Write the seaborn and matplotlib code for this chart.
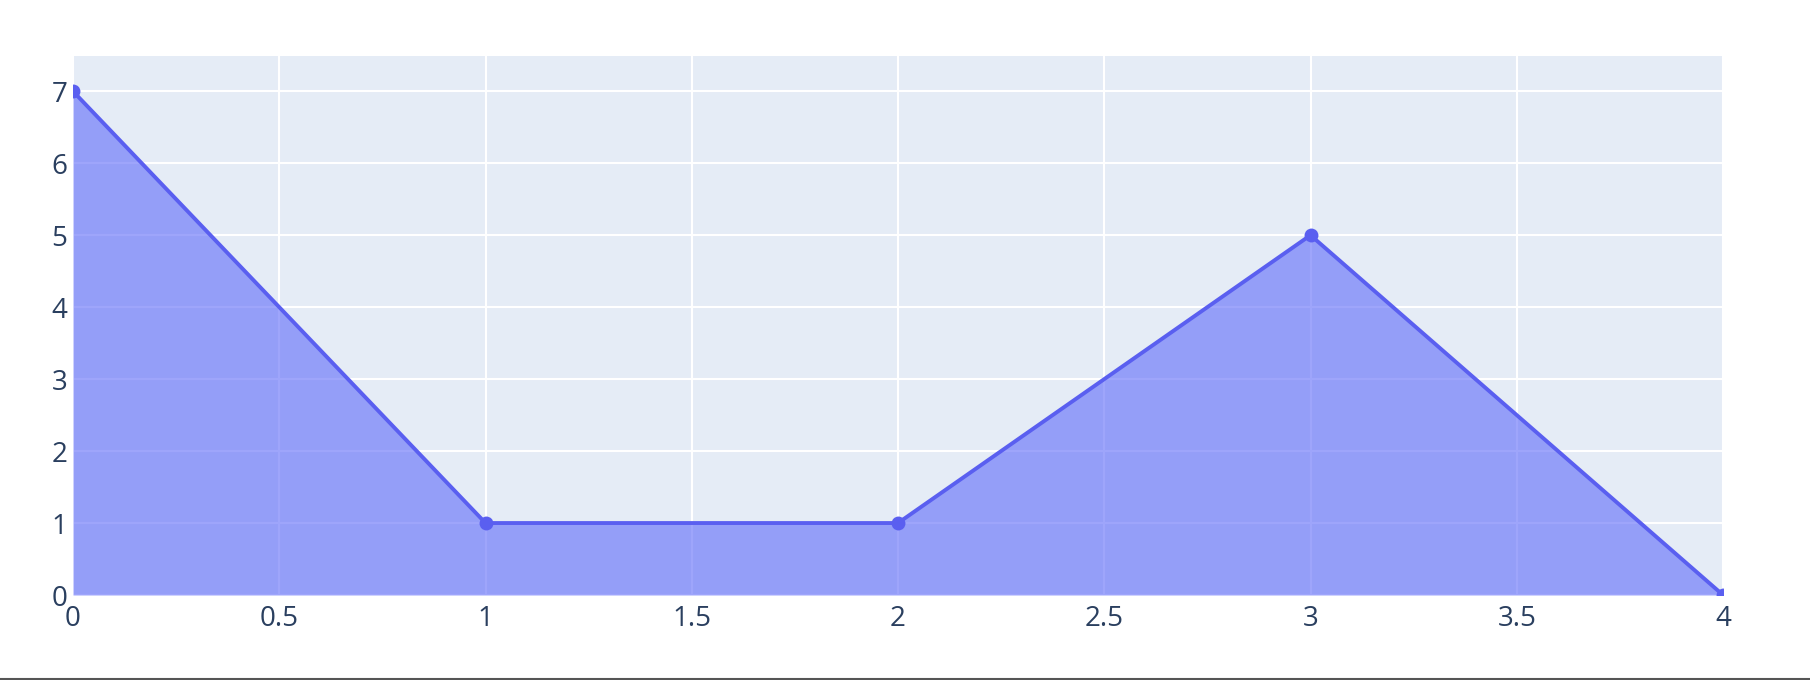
import numpy as np
import pandas as pd
import matplotlib
matplotlib.use("Agg")
import matplotlib.pyplot as plt
import seaborn as sns

x_vals = [0, 1, 2, 3, 4]
y_vals = [7, 1, 1, 5, 0]
x_ticks = [0, 0.5, 1, 1.5, 2, 2.5, 3, 3.5, 4]
x_tick_labels = ["0", "0.5", "1", "1.5", "2", "2.5", "3", "3.5", "4"]
y_ticks = [0, 1, 2, 3, 4, 5, 6, 7]

df = pd.DataFrame({"x": x_vals, "y": y_vals})

sns.set_theme(style="darkgrid", rc={
    "axes.facecolor": "#E5ECF6",
    "figure.facecolor": "white",
    "grid.color": "white",
    "grid.linewidth": 1.5,
})
plt.rcParams["font.family"] = ["Open Sans", "DejaVu Sans"]

fig = plt.figure(figsize=(18.1, 6.8), dpi=100)
ax = fig.add_axes([73 / 1810, 1 - 595 / 680, (1723 - 73) / 1810, (595 - 56) / 680])

ax.fill_between(df["x"], df["y"], 0, color="#636efa", alpha=0.62, linewidth=0, zorder=2)
sns.lineplot(data=df, x="x", y="y", ax=ax, color="#5a5ff0", linewidth=2.8,
             marker="o", markersize=10, markeredgewidth=0, zorder=3)

ax.set_xlim(0, 4)
ax.set_ylim(0, 7.49)
ax.set_xticks(x_ticks)
ax.set_xticklabels(x_tick_labels)
ax.set_yticks(y_ticks)
ax.set_xlabel("")
ax.set_ylabel("")
ax.tick_params(axis="both", labelsize=20, colors="#2a3f5f", length=0)
ax.tick_params(axis="x", pad=7)
ax.tick_params(axis="y", pad=4)
for lab in ax.get_xticklabels() + ax.get_yticklabels():
    lab.set_fontweight("medium")
for s in ax.spines.values():
    s.set_visible(False)

# thin dark border at the very bottom of the screenshot
fig.add_artist(plt.Line2D([0, 1], [1.5 / 680, 1.5 / 680], color="#555555", linewidth=1.5))

plt.savefig("out.png", dpi=100)
